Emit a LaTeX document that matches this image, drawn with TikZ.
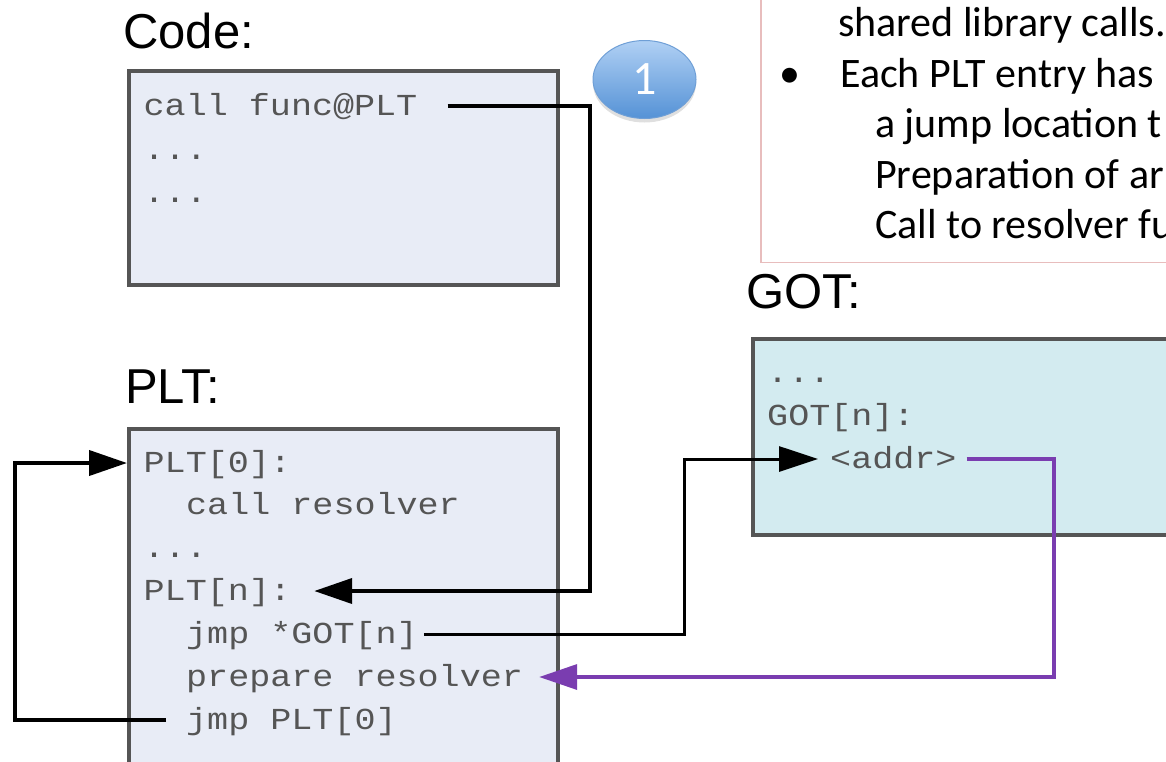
\documentclass[tikz,border=0pt]{standalone}
\usepackage{fontspec}
\setmainfont{Liberation Sans}
\newfontfamily\monof[FakeStretch=1.15]{Liberation Mono}
\newfontfamily\calib{Carlito}
\usetikzlibrary{arrows.meta,shapes.geometric,shadows}
\definecolor{boxfill}{HTML}{E8ECF6}
\definecolor{gotfill}{HTML}{D3EBF0}
\definecolor{boxline}{HTML}{555555}
\definecolor{codetext}{HTML}{555555}
\definecolor{purp}{HTML}{7A3DB0}
\definecolor{pinkline}{HTML}{E8BDBD}
\definecolor{ballTop}{HTML}{B0D0F4}
\definecolor{ballBot}{HTML}{5592D6}
\definecolor{ballLine}{HTML}{6F9FD6}
\tikzset{
  lbl/.style={anchor=base west, inner sep=0pt, font=\fontsize{49}{56}\selectfont},
  codetxt/.style={anchor=base west, inner sep=0pt, text height=22pt, text depth=4pt,
    text=codetext, font=\monof\fontsize{30.5}{36}\selectfont},
  notetxt/.style={anchor=base west, inner sep=0pt, font=\calib\fontsize{42}{50}\selectfont},
  membox/.style={draw=boxline, line width=3.5pt, fill=boxfill, anchor=north west,
    inner sep=0pt, rectangle},
  blkarrow/.style={draw=black, line width=4pt, -{Triangle[length=38pt,width=25pt]}},
  thinarrow/.style={draw=black, line width=3pt, -{Triangle[length=39pt,width=25pt]}},
  purparrow/.style={draw=purp, line width=3.5pt, -{Triangle[length=38pt,width=25pt]}},
}
\begin{document}
\begin{tikzpicture}[x=1pt,y=-1pt]
\useasboundingbox (0,0) rectangle (1166,761);
\begin{scope}
\clip (0,0) rectangle (1166,761);
% note box
\node[draw=pinkline, line width=1.5pt, fill=white, anchor=south west, inner sep=0pt,
      minimum width=440pt, minimum height=300pt] (notebox) at (760,263) {};
\node[notetxt] (n1) at (838,36) {shared library calls.};
\node[notetxt] (bul) at (779,87) {•};
\node[notetxt] (n2) at (840,87) {Each PLT entry has};
\node[notetxt] (n3) at (875,137) {a jump location t};
\node[notetxt] (n4) at (875,188) {Preparation of ar};
\node[notetxt] (n5) at (875,238) {Call to resolver fu};

% labels
\node[lbl] (codelbl) at (123,48) {Code:};
\node[lbl] (pltlbl) at (125,403) {PLT:};
\node[lbl] (gotlbl) at (746,308) {GOT:};

% boxes
\node[membox, minimum width=429pt, minimum height=214pt] (codebox) at (127,69) {};
\node[membox, minimum width=429pt, minimum height=370pt] (pltbox) at (127,427) {};
\node[membox, fill=gotfill, minimum width=440pt, minimum height=196pt] (gotbox) at (751,337) {};

% code text
\node[codetxt] (callfunc) at (143.5,115) {call func@PLT};
\node[codetxt] (cdots1) at (143.5,159) {...};
\node[codetxt] (cdots2) at (143.5,202) {...};

\node[codetxt] (plt0) at (143.5,472) {PLT[0]:};
\node[codetxt] (callres) at (186,514) {call resolver};
\node[codetxt] (pdots) at (143.5,557) {...};
\node[codetxt] (pltn) at (143.5,600) {PLT[n]:};
\node[codetxt] (jmpgot) at (186,643) {jmp *GOT[n]};
\node[codetxt] (prepres) at (186,686) {prepare resolver};
\node[codetxt] (jmpplt) at (186,729) {jmp PLT[0]};

\node[codetxt] (gdots) at (767,382) {...};
\node[codetxt] (gotn) at (767,425) {GOT[n]:};
\node[codetxt] (addr) at (830,468) {<addr>};

% marker
\node[ellipse, minimum width=103pt, minimum height=78pt, inner sep=0pt,
      top color=ballTop, bottom color=ballBot, draw=ballLine, line width=1pt,
      drop shadow={opacity=0.25, shadow xshift=0pt, shadow yshift=-4pt},
      text=white, font=\calib\fontsize{48}{50}\selectfont] (one) at (644.5,79.5) {1};

% connectors
\coordinate (xA) at (590,0);
\coordinate (xB) at (684,0);
\coordinate (xC) at (1054,0);
\coordinate (xD) at (15,0);

\draw[blkarrow] ([xshift=30pt]callfunc.east) -- (xA |- callfunc.east)
   -- (xA |- pltn.east) -- ([xshift=23pt]pltn.east);
\draw[thinarrow] ([xshift=6pt]jmpgot.east) -- (xB |- jmpgot.east)
   -- (xB |- addr.west) -- ([xshift=-12pt]addr.west);
\draw[purparrow] ([xshift=10pt]addr.east) -- (xC |- addr.east)
   -- (xC |- prepres.east) -- ([xshift=16pt]prepres.east);
\draw[blkarrow] ([xshift=-20pt]jmpplt.west) -- (xD |- jmpplt.west)
   -- (xD |- plt0.west) -- (pltbox.west |- plt0.west);
\end{scope}
\end{tikzpicture}
\end{document}
